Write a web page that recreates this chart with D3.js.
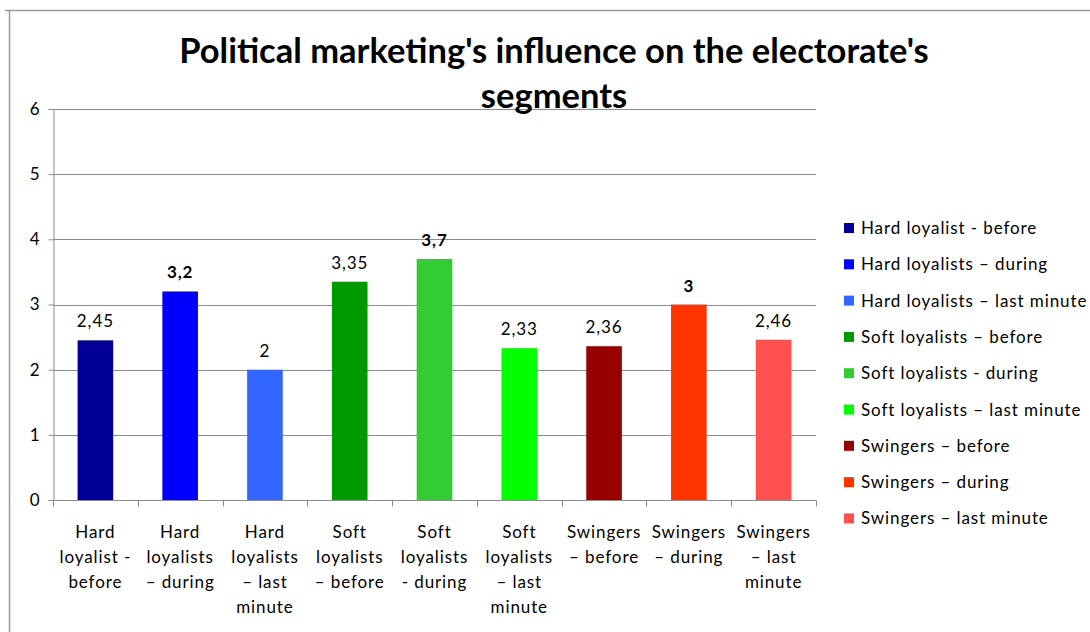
<!DOCTYPE html>
<html>
<head>
<meta charset="utf-8">
<script src="https://cdn.jsdelivr.net/npm/d3@7"></script>
<style>
  html, body { margin: 0; padding: 0; background: #fff; }
  svg { display: block; font-family: Lato, "Open Sans", sans-serif; }
</style>
</head>
<body>
<svg id="chart" width="1090" height="632"></svg>
<script>
const title = ["Political marketing's influence on the electorate's", "segments"];
const categories = [
  "Hard loyalist - before",
  "Hard loyalists \u2013 during",
  "Hard loyalists \u2013 last minute",
  "Soft loyalists \u2013 before",
  "Soft loyalists - during",
  "Soft loyalists \u2013 last minute",
  "Swingers \u2013 before",
  "Swingers \u2013 during",
  "Swingers \u2013 last minute"
];
const xLabelLines = [
  ["Hard", "loyalist -", "before"],
  ["Hard", "loyalists", "\u2013 during"],
  ["Hard", "loyalists", "\u2013 last", "minute"],
  ["Soft", "loyalists", "\u2013 before"],
  ["Soft", "loyalists", "- during"],
  ["Soft", "loyalists", "\u2013 last", "minute"],
  ["Swingers", "\u2013 before"],
  ["Swingers", "\u2013 during"],
  ["Swingers", "\u2013 last", "minute"]
];
const values = [2.45, 3.2, 2, 3.35, 3.7, 2.33, 2.36, 3, 2.46];
const boldLabels = [false, true, false, false, true, false, false, true, false];
const colors = ["#000099", "#0000FF", "#3366FF", "#009900", "#33CC33", "#00FF00", "#990000", "#FF3300", "#FF5050"];
const yTicks = [0, 1, 2, 3, 4, 5, 6];

const FS = 17, LS = "0.9px";
const svg = d3.select("#chart");

// outer chart border
svg.append("path").attr("d", "M5,10.5H1090M9.5,10.5V632")
  .attr("stroke", "#9a9a9a").attr("stroke-width", 1.5).attr("fill", "none");

const plot = { left: 53, right: 816, top: 109, bottom: 500 };
const x = d3.scaleBand().domain(categories).range([plot.left, plot.right]).paddingInner(0.58).paddingOuter(0.29);
const xTick = d3.scaleBand().domain(categories).range([plot.left, plot.right]);
const y = d3.scaleLinear().domain([0, 6]).range([plot.bottom, plot.top]);

// gridlines
svg.append("g").selectAll("line").data(yTicks.filter(d => d > 0)).join("line")
  .attr("x1", plot.left).attr("x2", plot.right)
  .attr("y1", d => Math.round(y(d)) + 0.5).attr("y2", d => Math.round(y(d)) + 0.5)
  .attr("stroke", "#8c8c8c").attr("stroke-width", 1);

// y axis
const yAxis = svg.append("g").attr("transform", `translate(${plot.left + 0.5},0)`)
  .call(d3.axisLeft(y).tickValues(yTicks).tickSize(5).tickPadding(9).tickFormat(d3.format("d")));
yAxis.select(".domain").attr("stroke", "#8c8c8c");
yAxis.selectAll(".tick line").attr("stroke", "#8c8c8c");
yAxis.selectAll("text").attr("font-size", FS).attr("fill", "#000").attr("font-family", "Lato, sans-serif");

// bars
svg.append("g").selectAll("rect").data(values).join("rect")
  .attr("x", (d, i) => x(categories[i]))
  .attr("width", x.bandwidth())
  .attr("y", d => y(d))
  .attr("height", d => y(0) - y(d))
  .attr("fill", (d, i) => colors[i]);

// x axis
const xAxisG = svg.append("g").attr("transform", `translate(0,${plot.bottom + 0.5})`);
xAxisG.append("line").attr("x1", plot.left).attr("x2", plot.right).attr("stroke", "#8c8c8c");
const tickPositions = categories.map(c => xTick(c)).concat([plot.right]);
xAxisG.selectAll(".xt").data(tickPositions).join("line").attr("class", "xt")
  .attr("x1", d => Math.round(d) + 0.5).attr("x2", d => Math.round(d) + 0.5)
  .attr("y1", 0).attr("y2", 6).attr("stroke", "#8c8c8c");

// x labels
const xl = svg.append("g").selectAll("text").data(xLabelLines).join("text")
  .attr("text-anchor", "middle").attr("font-size", FS).attr("letter-spacing", LS).attr("fill", "#000")
  .attr("x", (d, i) => xTick(categories[i]) + xTick.bandwidth() / 2)
  .attr("y", 538);
xl.selectAll("tspan").data(d => d).join("tspan")
  .attr("x", function () { return d3.select(this.parentNode).attr("x"); })
  .attr("dy", (d, i) => i === 0 ? 0 : 25)
  .text(d => d);

// data labels
const fmt = v => String(v).replace(".", ",");
svg.append("g").selectAll("text").data(values).join("text")
  .attr("text-anchor", "middle").attr("font-size", FS).attr("letter-spacing", LS).attr("fill", "#000")
  .attr("font-weight", (d, i) => boldLabels[i] ? "bold" : "normal")
  .attr("x", (d, i) => x(categories[i]) + x.bandwidth() / 2)
  .attr("y", d => y(d) - 13)
  .text(d => fmt(d));

// title
svg.append("text").attr("text-anchor", "middle").attr("font-size", 34.5).attr("font-weight", "bold")
  .attr("x", 554).attr("y", 63).text(title[0]);
svg.append("text").attr("text-anchor", "middle").attr("font-size", 34.5).attr("font-weight", "bold")
  .attr("x", 554).attr("y", 108).text(title[1]);

// legend
const legend = svg.append("g").attr("transform", "translate(844,228)");
const li = legend.selectAll("g").data(categories).join("g")
  .attr("transform", (d, i) => `translate(0,${i * 36.3})`);
li.append("rect").attr("x", 0).attr("y", -5).attr("width", 10).attr("height", 10)
  .attr("fill", (d, i) => colors[i]);
li.append("text").attr("x", 17).attr("y", 6).attr("font-size", FS).attr("letter-spacing", LS)
  .attr("fill", "#000").text(d => d);
</script>
</body>
</html>
